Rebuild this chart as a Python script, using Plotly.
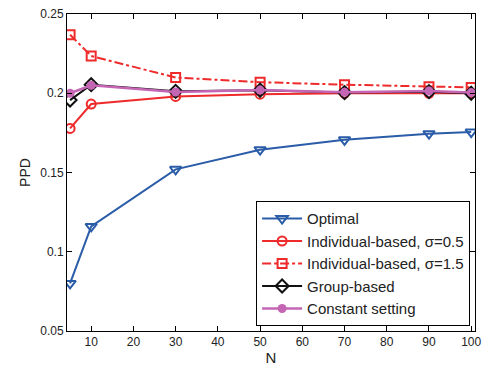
import plotly.graph_objects as go

N = [5, 10, 30, 50, 70, 90, 100]
optimal = [0.080, 0.116, 0.152, 0.1644, 0.1706, 0.1745, 0.1755]
indiv_05 = [0.1778, 0.1932, 0.198, 0.1994, 0.2, 0.2, 0.2]
indiv_15 = [0.2369, 0.2235, 0.2099, 0.207, 0.2054, 0.2041, 0.2037]
group = [0.1957, 0.2054, 0.2012, 0.2019, 0.2004, 0.201, 0.2]
constant = [0.2, 0.205, 0.2008, 0.202, 0.2006, 0.2014, 0.2004]

xticks = [10, 20, 30, 40, 50, 60, 70, 80, 90, 100]
yticks = [0.05, 0.1, 0.15, 0.2, 0.25]
yticklabels = ["0.05", "0.1", "0.15", "0.2", "0.25"]

BLUE = "#2b5ca8"
RED = "#ee2a2a"
BLACK = "#111111"
MAG = "#c466b4"
FONT = "Liberation Sans, Arial"

fig = go.Figure()
fig.add_trace(go.Scatter(x=N, y=optimal, name="Optimal", mode="lines+markers",
                         line=dict(color=BLUE, width=2),
                         marker=dict(symbol="triangle-down-open", size=10, color=BLUE, line=dict(width=2))))
fig.add_trace(go.Scatter(x=N, y=indiv_05, name="Individual-based, σ=0.5", mode="lines+markers",
                         line=dict(color=RED, width=2),
                         marker=dict(symbol="circle-open", size=9, color=RED, line=dict(width=2))))
fig.add_trace(go.Scatter(x=N, y=indiv_15, name="Individual-based, σ=1.5", mode="lines+markers",
                         line=dict(color=RED, width=2, dash="dashdot"),
                         marker=dict(symbol="square-open", size=9, color=RED, line=dict(width=2))))
fig.add_trace(go.Scatter(x=N, y=group, name="Group-based", mode="lines+markers",
                         line=dict(color=BLACK, width=2),
                         marker=dict(symbol="diamond-open", size=10, color=BLACK, line=dict(width=2))))
fig.add_trace(go.Scatter(x=N, y=constant, name="Constant setting", mode="lines+markers",
                         line=dict(color=MAG, width=2.5),
                         marker=dict(symbol="circle", size=9, color=MAG)))

axis_common = dict(showgrid=False, zeroline=False, showline=True, linecolor="black", linewidth=1,
                   mirror="ticks", ticks="inside", ticklen=5, tickcolor="black",
                   tickfont=dict(family=FONT, size=12, color="#222"))

fig.update_xaxes(range=[4.27, 100.9], tickvals=xticks,
                 title=dict(text="N", font=dict(family=FONT, size=15, color="#222"), standoff=2),
                 **axis_common)
fig.update_yaxes(range=[0.05, 0.25], tickvals=yticks, ticktext=yticklabels,
                 title=dict(text="PPD", font=dict(family=FONT, size=14, color="#222"), standoff=6),
                 **axis_common)

fig.update_layout(
    width=489, height=369,
    margin=dict(l=67, r=12, t=7, b=38),
    plot_bgcolor="white", paper_bgcolor="white",
    font=dict(family=FONT, size=14, color="#222"),
    legend=dict(x=0.988, y=0.015, xanchor="right", yanchor="bottom",
                bgcolor="white", bordercolor="black", borderwidth=1,
                itemwidth=40, tracegroupgap=0,
                font=dict(family=FONT, size=15, color="#222")),
    showlegend=True,
)

fig.write_html("out.html", config={"displayModeBar": False},
               post_script="document.body.style.margin='0px';")
